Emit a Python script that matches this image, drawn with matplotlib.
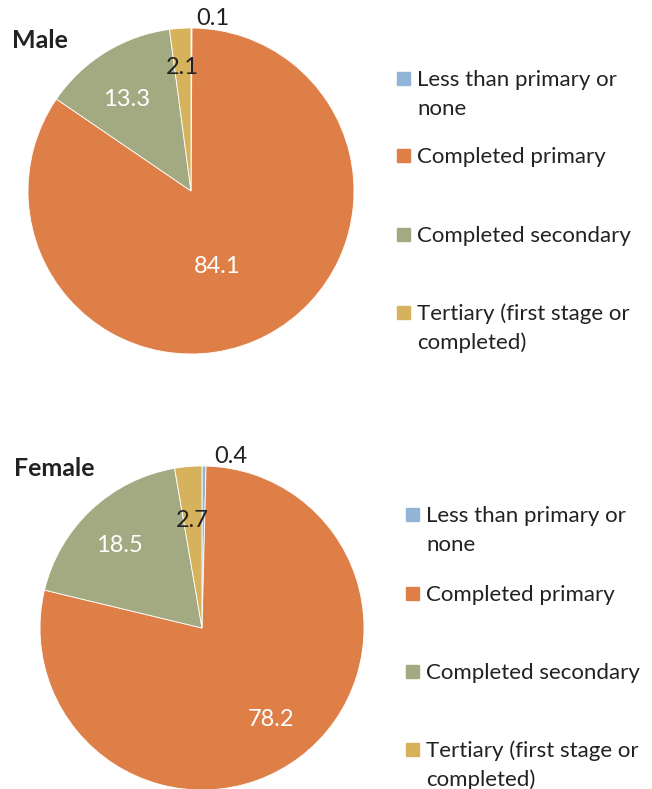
import numpy as np
import matplotlib.pyplot as plt
from matplotlib.patches import Rectangle

plt.rcParams['font.family'] = ['Lato', 'DejaVu Sans']

categories = ['Less than primary or\nnone', 'Completed primary',
              'Completed secondary', 'Tertiary (first stage or\ncompleted)']
male = [0.1, 84.1, 13.3, 2.1]
female = [0.4, 78.2, 18.5, 2.7]
colors = ['#92B4D6', '#DF7F48', '#A3AA81', '#D7B25C']

W, H = 652, 789
fig = plt.figure(figsize=(W / 100, H / 100), dpi=100)


def px(x, y, w, h):
    # pixel box (top-left origin) -> figure fraction
    return [x / W, 1 - (y + h) / H, w / W, h / H]


def draw_pie(cx, cy, r, values, title, tx, ty, leg_x, leg_base, lab_r, lab_da, small_dx):
    ax = fig.add_axes(px(cx - r, cy - r, 2 * r, 2 * r))
    wedges, _ = ax.pie(values, colors=colors, startangle=90, counterclock=False,
                       wedgeprops=dict(edgecolor='white', linewidth=0.6))
    ax.set_xlim(-1, 1)
    ax.set_ylim(-1, 1)
    ax.set_aspect('equal')
    ax.axis('off')
    label_col = ['#222222', 'white', 'white', '#222222']
    for w, v, rr, da, col in zip(wedges, values, lab_r, lab_da, label_col):
        mid = np.deg2rad((w.theta1 + w.theta2) / 2 + da)
        if rr > 1:
            # tiny slice: label above the rim, right of the boundary
            ax.text(np.cos(mid) + small_dx, 1.07, f'{v:.1f}', ha='left',
                    va='center_baseline', fontsize=17, color=col, clip_on=False)
        else:
            ax.text(rr * np.cos(mid), rr * np.sin(mid), f'{v:.1f}', ha='center',
                    va='center_baseline', fontsize=17, color=col)
    fig.text(tx / W, 1 - ty / H, title, fontsize=18, fontweight='bold',
             color='#222222', ha='left', va='center_baseline')
    for lab, c, yb in zip(categories, colors, leg_base):
        fig.patches.append(Rectangle((leg_x / W, 1 - (yb - 1) / H), 13 / W, 13 / H,
                                     transform=fig.transFigure, color=c))
        for i, line in enumerate(lab.split('\n')):
            fig.text((leg_x + 20) / W, 1 - (yb + 29 * i) / H, line, fontsize=16,
                     color='#222222', ha='left', va='baseline')


draw_pie(191, 191, 163, male, 'Male', 12, 38, 397, [86, 163, 242, 320],
         [1.07, 0.48, 0.70, 0.77], [0, -8, 3, 0], 0.03)
draw_pie(202, 628, 162, female, 'Female', 14, 466, 406, [522, 601, 679, 757],
         [1.07, 0.70, 0.73, 0.68], [0, 0, 1.5, 0], 0.06)

fig.savefig('out.png', dpi=100)
